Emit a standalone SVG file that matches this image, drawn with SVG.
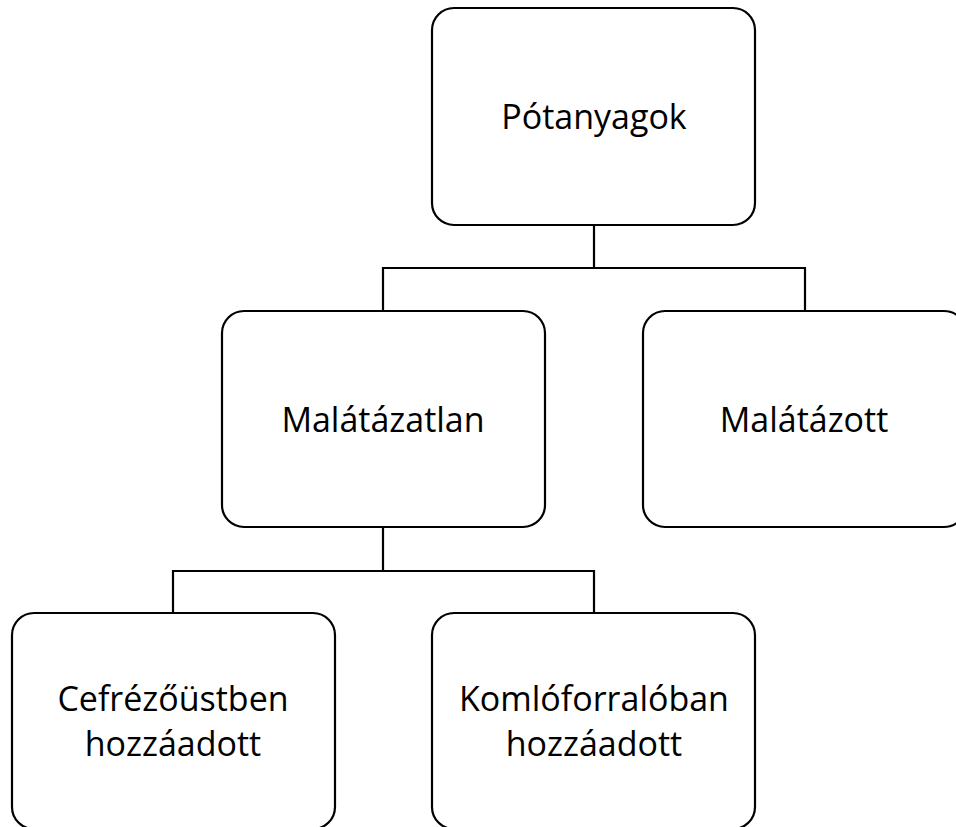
<svg xmlns="http://www.w3.org/2000/svg" width="956" height="827" viewBox="0 0 956 827">
<style>
.box{fill:#fff;stroke:#000;stroke-width:2.2}
.conn{fill:none;stroke:#000;stroke-width:2.2}
text{font-family:"Open Sans","Liberation Sans",sans-serif;font-size:34px;fill:#000;text-anchor:middle}
</style>
<rect width="956" height="827" fill="#fff"/>
<g id="connectors">
<path class="conn" d="M594 225V268M383 311V268H805V311"/>
<path class="conn" d="M383 527V571M173 613V571H594V613"/>
</g>
<g id="n-potanyagok">
<rect class="box" x="432" y="8" width="323" height="217" rx="22"/>
<text x="594" y="129">Pótanyagok</text>
</g>
<g id="n-malatazatlan">
<rect class="box" x="222" y="311" width="323" height="216" rx="22"/>
<text x="383" y="432">Malátázatlan</text>
</g>
<g id="n-malatazott">
<rect class="box" x="643" y="311" width="323" height="216" rx="22"/>
<text x="804" y="432">Malátázott</text>
</g>
<g id="n-cefrezoustben">
<rect class="box" x="12" y="613" width="323" height="216" rx="22"/>
<text x="173" y="711">Cefrézőüstben</text>
<text x="173" y="756">hozzáadott</text>
</g>
<g id="n-komloforraloban">
<rect class="box" x="432" y="613" width="323" height="216" rx="22"/>
<text x="594" y="711">Komlóforralóban</text>
<text x="594" y="756">hozzáadott</text>
</g>
</svg>
